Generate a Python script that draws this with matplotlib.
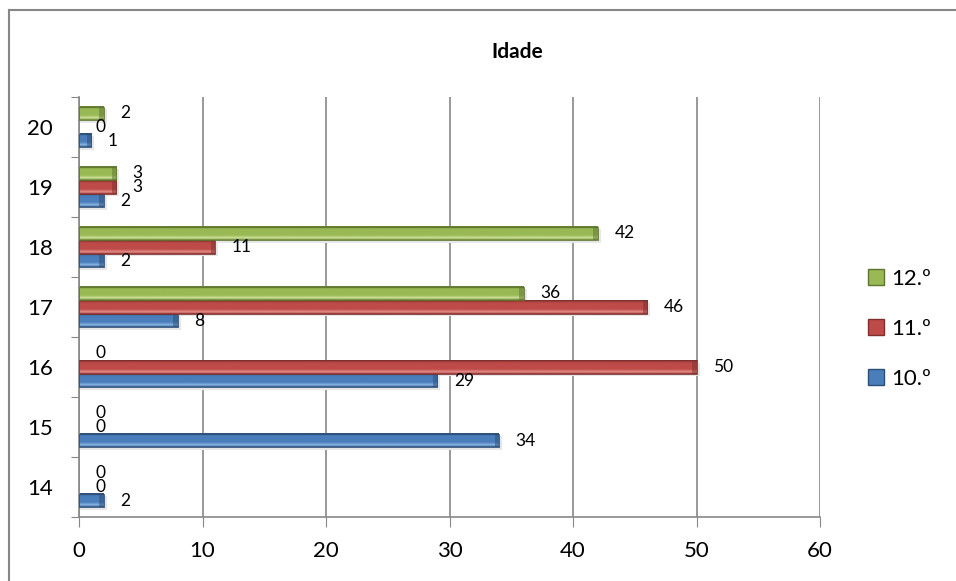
import matplotlib.pyplot as plt
import numpy as np
from matplotlib.colors import to_rgb
from matplotlib.lines import Line2D

plt.rcParams['font.family'] = ['Lato', 'DejaVu Sans']

# Idades e número de alunos por ano
idades = ['14', '15', '16', '17', '18', '19', '20']
ano10 = [2, 34, 29, 8, 2, 2, 1]
ano11 = [0, 0, 50, 46, 11, 3, 0]
ano12 = [0, 0, 0, 36, 42, 3, 2]
series = ['10.º', '11.º', '12.º']

# cor base, realce e sombra de cada série
cores = {
    '10.º': ('#4A7EBB', '#9CC3EE', '#2C4D75'),
    '11.º': ('#BE4B48', '#F0A09E', '#7E302E'),
    '12.º': ('#98B954', '#DCEBAE', '#5E7530'),
}

fig = plt.figure(figsize=(9.56, 5.81), dpi=100)
ax = fig.add_axes([79 / 956, 1 - 517 / 581, (820 - 79) / 956, (517 - 97) / 581])

h = 0.225


def gradiente(base, claro, escuro, n=40):
    # perfil vertical do bisel: de cima (índice 0) para baixo
    b = np.array(to_rgb(base))
    c = np.array(to_rgb(claro))
    e = np.array(to_rgb(escuro))
    linhas = []
    for i in range(n):
        t = i / (n - 1)
        if t < 0.08:
            col = 0.5 * b + 0.5 * e
        elif t < 0.35:
            col = c * (1 - (t - 0.08) / 0.27) + b * ((t - 0.08) / 0.27)
        elif t < 0.8:
            col = b
        else:
            col = b * (1 - (t - 0.8) / 0.2) + e * ((t - 0.8) / 0.2)
        linhas.append(col)
    return np.array(linhas)[::-1, None, :]


def barra(y, v, cor):
    if v <= 0:
        return
    img = gradiente(*cor)
    # sombra leve
    ax.add_patch(plt.Rectangle((0.1, y - h / 2 - 0.04), v + 0.15, h, color='#e6e6e6', zorder=1, lw=0))
    ax.imshow(img, extent=(0, v, y - h / 2, y + h / 2), aspect='auto', zorder=2, interpolation='bilinear')
    # topo direito mais escuro
    ax.add_patch(plt.Rectangle((v - 0.35, y - h / 2), 0.35, h, color=cor[2], alpha=0.5, zorder=3, lw=0))
    ax.add_patch(plt.Rectangle((0, y - h / 2), v, h, fill=False, ec=cor[2], lw=0.6, zorder=3))


pos = np.arange(len(idades))
for k, (nome, valores) in enumerate(zip(series, [ano10, ano11, ano12])):
    off = (k - 1) * h
    for i, v in enumerate(valores):
        y = pos[i] + off
        barra(y, v, cores[nome])
        ax.text(v + 1.35, y, str(v), ha='left', va='center', fontsize=12.5, zorder=4)

ax.set_xlim(0, 60)
ax.set_ylim(-0.5, len(idades) - 0.5)
ax.set_xticks(range(0, 61, 10))
ax.set_yticks(np.arange(-0.5, len(idades), 1))
ax.set_yticklabels([])
ax.set_yticks(pos, minor=True)
ax.set_yticklabels(idades, minor=True)
ax.tick_params(axis='y', which='minor', length=0, pad=19, labelsize=16)
ax.tick_params(axis='y', which='major', length=6, color='#878787', direction='out')
ax.tick_params(axis='x', length=7, color='#878787', labelsize=16, pad=10)
ax.grid(axis='x', color='#878787', lw=1.2, zorder=0)
ax.set_axisbelow(True)
for s in ['top', 'right']:
    ax.spines[s].set_visible(False)
for s in ['left', 'bottom']:
    ax.spines[s].set_color('#878787')
    ax.spines[s].set_linewidth(1.2)

fig.text(517 / 956, 1 - 52 / 581, 'Idade', ha='center', va='center', fontsize=15, fontweight='bold')

# legenda com a ordem invertida
handles = [Line2D([], [], marker='s', ls='', markersize=11, markerfacecolor=cores[n][0],
                  markeredgecolor=cores[n][2]) for n in series[::-1]]
fig.legend(handles, series[::-1], loc='center left', bbox_to_anchor=(843 / 956, 1 - 329 / 581),
           frameon=False, fontsize=16, handletextpad=0.05, labelspacing=1.35, handlelength=1.2)

# moldura do gráfico
fig.add_artist(Line2D([9 / 956, 9 / 956], [0, 1 - 10 / 581], color='#878787', lw=1.5))
fig.add_artist(Line2D([9 / 956, 1], [1 - 10 / 581, 1 - 10 / 581], color='#878787', lw=1.5))

fig.savefig('out.png', dpi=100)
